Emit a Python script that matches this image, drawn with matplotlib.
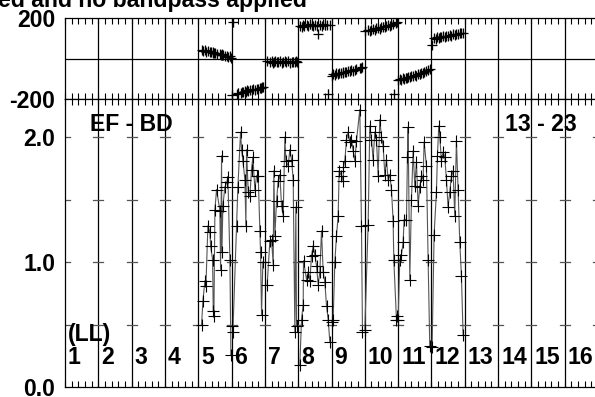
import matplotlib
matplotlib.use("Agg")
import matplotlib.pyplot as plt
import numpy as np

# time (in panel units), amplitude and phase per IF panel
t5 = [4.10, 4.14, 4.20, 4.23, 4.29, 4.35, 4.37, 4.43, 4.45, 4.47, 4.50, 4.55, 4.65, 4.67, 4.70, 4.71, 4.74, 4.80, 4.86, 4.89, 4.95, 4.98]
a5 = [0.50, 0.69, 0.85, 0.81, 1.29, 1.24, 1.13, 1.02, 0.61, 0.57, 1.42, 1.58, 1.41, 0.94, 1.85, 1.08, 1.45, 1.60, 1.64, 1.68, 1.02, 0.26]
p5 = [44, 38, 40, 33, 36, 30, 34, 27, 30, 25, 28, 22, 24, 18, 21, 15, 17, 12, 14, 8, 10, 4]

t6 = [5.02, 5.04, 5.15, 5.19, 5.27, 5.30, 5.34, 5.40, 5.43, 5.45, 5.50, 5.55, 5.60, 5.64, 5.70, 5.75, 5.80, 5.85, 5.87, 5.90, 5.94]
a6 = [0.49, 0.44, 1.29, 1.60, 2.04, 1.90, 1.81, 1.66, 1.29, 1.90, 1.56, 1.53, 1.74, 1.84, 1.58, 1.69, 1.69, 1.25, 1.08, 0.58, 1.00]
p6 = [-178, 178, -175, -168, -171, -165, -167, -162, -164, -158, -161, -155, -157, -152, -154, -149, -151, -146, -148, -143, -141]

t7 = [6.07, 6.15, 6.20, 6.25, 6.27, 6.30, 6.35, 6.40, 6.45, 6.50, 6.55, 6.60, 6.63, 6.70, 6.75, 6.80, 6.85, 6.90, 6.93, 6.95]
a7 = [0.82, 1.17, 1.18, 0.98, 1.73, 1.21, 1.49, 1.65, 1.70, 1.45, 1.37, 2.00, 1.81, 1.77, 1.90, 1.82, 1.66, 0.44, 1.44, 0.49]
p7 = [-12, -18, -14, -20, -16, -11, -19, -15, -13, -21, -17, -14, -18, -12, -20, -16, -15, -19, -13, -17]

t8 = [7.05, 7.10, 7.15, 7.16, 7.25, 7.30, 7.35, 7.40, 7.45, 7.50, 7.55, 7.60, 7.65, 7.70, 7.75, 7.80, 7.85, 7.90, 7.95]
a8 = [0.18, 0.54, 0.66, 1.01, 0.86, 0.92, 0.85, 1.05, 1.13, 1.06, 0.97, 0.82, 0.92, 1.25, 0.92, 0.84, 0.65, 0.54, 0.36]
p8 = [162, 158, 165, 160, 166, 161, 168, 163, 159, 167, 162, 122, 165, 160, 168, 163, 166, -173, 164]

t9 = [8.00, 8.05, 8.10, 8.15, 8.20, 8.23, 8.30, 8.35, 8.36, 8.40, 8.45, 8.50, 8.55, 8.60, 8.65, 8.70, 8.75, 8.85, 8.90, 8.93]
a9 = [0.52, 0.54, 1.00, 1.21, 1.37, 1.73, 1.69, 1.65, 1.76, 1.81, 1.98, 2.04, 1.96, 1.98, 1.89, 1.81, 1.97, 2.22, 1.29, 0.44]
p9 = [-84, -78, -80, -74, -77, -71, -73, -68, -70, -65, -67, -62, -64, -58, -60, -55, -52, -47, -49, -43]

t10 = [9.00, 9.10, 9.15, 9.20, 9.25, 9.30, 9.35, 9.40, 9.45, 9.50, 9.55, 9.60, 9.65, 9.70, 9.75, 9.80, 9.85, 9.87, 9.95, 9.98]
a10 = [0.46, 1.30, 2.09, 1.98, 1.82, 2.04, 1.98, 1.69, 2.14, 2.00, 1.93, 1.70, 1.82, 1.66, 1.70, 1.58, 1.33, 1.02, 0.54, 0.57]
p10 = [134, 140, 137, 143, 146, 142, 149, 152, 148, 155, 158, 154, 161, 164, 160, 167, 170, -175, 176, 180]

t11 = [10.00, 10.05, 10.10, 10.15, 10.18, 10.25, 10.28, 10.30, 10.35, 10.40, 10.45, 10.50, 10.55, 10.60, 10.65, 10.70, 10.75, 10.78, 10.85, 10.90, 10.95]
a11 = [0.54, 1.02, 1.06, 1.16, 1.34, 1.34, 1.84, 2.08, 0.86, 1.50, 1.89, 1.61, 1.80, 1.45, 1.60, 1.69, 1.66, 1.96, 1.77, 1.02, 0.33]
p11 = [-108, -102, -105, -98, -100, -94, -97, -90, -93, -86, -88, -82, -84, -77, -79, -73, -70, -66, -62, -57, -52]

t12 = [11.02, 11.08, 11.15, 11.18, 11.22, 11.25, 11.30, 11.35, 11.40, 11.45, 11.50, 11.55, 11.60, 11.65, 11.70, 11.75, 11.80, 11.85, 11.90, 11.95]
a12 = [0.32, 1.22, 1.56, 1.85, 2.09, 2.00, 1.81, 1.88, 1.84, 1.66, 1.44, 1.56, 1.69, 1.73, 1.37, 1.97, 1.58, 1.16, 0.89, 0.42]
p12 = [66, 100, 98, 104, 101, 107, 104, 110, 107, 113, 110, 116, 113, 119, 116, 122, 119, 125, 128, 126]

panels = [(t5, a5, p5), (t6, a6, p6), (t7, a7, p7), (t8, a8, p8),
          (t9, a9, p9), (t10, a10, p10), (t11, a11, p11), (t12, a12, p12)]
panel_labels = [str(i) for i in range(1, 17)]
phase_err = 20

FONT = dict(family="Liberation Sans", weight="bold", size=16.6)

W, H = 595, 397
fig = plt.figure(figsize=(W / 100, H / 100), dpi=100)
left, right = 65, 598
ax_ph = fig.add_axes([left / W, (H - 99) / H, (right - left) / W, 81 / H])
ax_amp = fig.add_axes([left / W, (H - 387) / H, (right - left) / W, 288 / H])

for ax in (ax_ph, ax_amp):
    ax.set_xlim(0, 16)
    for k in range(1, 16):
        ax.axvline(k, color="black", lw=0.9, zorder=1)
    ax.set_xticks(np.arange(0, 16.01, 0.2))
    ax.set_xticklabels([])
    ax.tick_params(axis="x", direction="in", length=4.5, width=0.8, top=True, bottom=True)
    ax.tick_params(axis="y", length=0, pad=7)
    for s in ax.spines.values():
        s.set_linewidth(0.9)

# phase panel
ax_ph.set_ylim(-200, 200)
ax_ph.axhline(0, color="black", lw=0.9, zorder=1)
ax_ph.set_yticks([-200, 200])
ax_ph.set_yticklabels(["-200", "200"], fontdict=FONT)
for t, a, p in panels:
    ax_ph.errorbar(t, p, yerr=phase_err, fmt="+", color="black", ecolor="#333333",
                   elinewidth=0.8, markersize=7, mew=0.9, zorder=3)

# amplitude panel
ax_amp.set_ylim(0, 2.304)
ax_amp.set_yticks([0.0, 1.0, 2.0])
ax_amp.set_yticklabels(["0.0", "1.0", "2.0"], fontdict=FONT)
for yv in [0.5, 1.0, 1.5, 2.0]:
    for k in range(0, 17):
        ax_amp.plot([k - 0.15, k + 0.15], [yv, yv], color="#555555", lw=0.9, zorder=1)
for t, a, p in panels:
    ax_amp.plot(t, a, color="#555555", lw=0.8, zorder=2)
    ax_amp.plot(t, a, "+", color="black", markersize=8, mew=0.8, zorder=3)

ax_amp.text(0.75, 2.10, "EF - BD", ha="left", va="center", **FONT)
ax_amp.text(13.2, 2.10, "13 - 23", ha="left", va="center", **FONT)
ax_amp.text(0.09, 0.42, "(LL)", ha="left", va="center", **FONT)
for k, lab in enumerate(panel_labels):
    ax_amp.text(k + 0.09, 0.235, lab, ha="left", va="center", **FONT)

fig.text(307 / W, (H - 7) / H, "ed and no bandpass applied", ha="right", va="baseline", **FONT)

fig.savefig("out.png", dpi=100)
